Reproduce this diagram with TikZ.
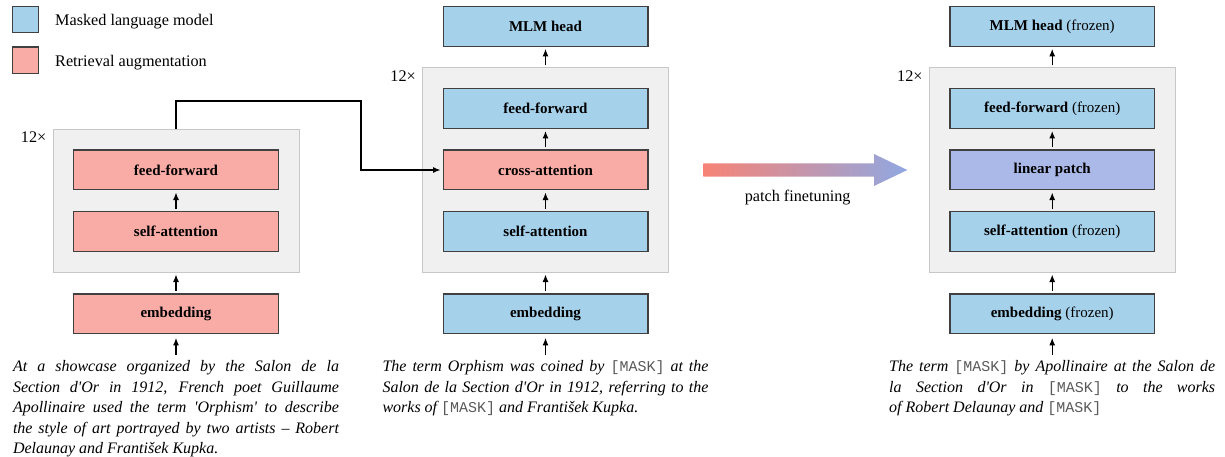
\documentclass[tikz,border=0pt]{standalone}
\usepackage{fontspec}
\setmainfont{Liberation Serif}
\setmonofont{Liberation Mono}
\usepackage{tikz}
\usetikzlibrary{arrows.meta,fit,positioning}

\definecolor{mlmblue}{RGB}{166,209,235}
\definecolor{rapink}{RGB}{248,172,165}
\definecolor{patchblue}{RGB}{171,185,232}
\definecolor{arrowred}{RGB}{247,131,118}
\definecolor{arrowblue}{RGB}{144,168,226}

\newcommand{\mask}{{\upshape\ttfamily\fontsize{15}{20.5}\selectfont\color{black!65}[MASK]}}
\newcommand{\frz}{ (frozen)}
\hbadness=10000

\begin{document}
\begin{tikzpicture}[x=1pt,y=-1pt]

        % Слои:
        \pgfdeclarelayer{background}
        \pgfsetlayers{background,main}

        % Стили:
        \tikzstyle{modulebox}=[draw=black!75, line width=1.3pt, minimum width=204.7pt,
        minimum height=39.7pt, inner sep=0pt, font=\fontsize{15}{18}\selectfont]
        \tikzstyle{stack}=[draw=black!22, fill=black!6, line width=1pt, inner sep=20pt]
        \tikzstyle{legendkey}=[draw=black!75, line width=1.3pt, minimum size=26.3pt, inner sep=0pt]
        \tikzstyle{plain}=[inner sep=0pt, font=\fontsize{16.2}{19}\selectfont]
        \tikzstyle{caption}=[anchor=north, text width=326pt, align=justify, inner sep=0pt,
        font=\fontsize{16}{20.5}\selectfont\itshape]
        \tikzstyle{line}=[draw, line width=1.2pt, color=black, -{Latex[length=7.5pt,width=6pt]}]
        \tikzstyle{uparrow}=[line, shorten <=2pt, shorten >=2pt]
        \tikzstyle{inarrow}=[line, shorten <=5pt, shorten >=3.7pt]

        \newcommand{\modulebox}[3]{node (#1) [modulebox,#3] {#2}}

        % Серый фон блока:
        \newcommand{\stackbg}[3]{%
        \begin{pgfonlayer}{background}
            \node (#1) [stack, fit=(#2)(#3)] {};
        \end{pgfonlayer}
        \path (#1.north west)+(-6,8.5) node (#1x) [plain, anchor=east] {12×};}

        \useasboundingbox (0,0) rectangle (1225,457);

        % Легенда:
        \path (25.5,19.5) node (kmlm) [legendkey, fill=mlmblue] {};
        \path (kmlm.east)+(15.7,6.5) node (tmlm) [plain, anchor=base west] {Masked language model};
        \path (25.5,60.3) node (kra) [legendkey, fill=rapink] {};
        \path (kra.east)+(15.7,6.4) node (tra) [plain, anchor=base west] {Retrieval augmentation};

        % Левая колонка:
        \path (176,313.7) \modulebox{lemb}{\textbf{embedding}}{fill=rapink};
        \path (lemb.center)+(0,-82.2) \modulebox{lsa}{\textbf{self-attention}}{fill=rapink};
        \path (lsa.center)+(0,-61.5) \modulebox{lff}{\textbf{feed-forward}}{fill=rapink};

        % Средняя колонка:
        \path (lemb.center)+(369.5,0) \modulebox{memb}{\textbf{embedding}}{fill=mlmblue};
        \path (memb.center)+(0,-82.2) \modulebox{msa}{\textbf{self-attention}}{fill=mlmblue};
        \path (msa.center)+(0,-61.5) \modulebox{mca}{\textbf{cross-attention}}{fill=rapink};
        \path (mca.center)+(0,-61.5) \modulebox{mff}{\textbf{feed-forward}}{fill=mlmblue};
        \path (mff.center)+(0,-82.1) \modulebox{mhead}{\textbf{MLM head}}{fill=mlmblue};

        % Правая колонка:
        \path (memb.center)+(506.7,0) \modulebox{remb}{\textbf{embedding}\frz}{fill=mlmblue};
        \path (remb.center)+(0,-82.2) \modulebox{rsa}{\textbf{self-attention}\frz}{fill=mlmblue};
        \path (rsa.center)+(0,-61.5) \modulebox{rpatch}{\textbf{linear patch}}{fill=patchblue};
        \path (rpatch.center)+(0,-61.5) \modulebox{rff}{\textbf{feed-forward}\frz}{fill=mlmblue};
        \path (rff.center)+(0,-82.1) \modulebox{rhead}{\textbf{MLM head}\frz}{fill=mlmblue};

        \stackbg{s1}{lff}{lsa}
        \stackbg{s2}{mff}{msa}
        \stackbg{s3}{rff}{rsa}

        % Подписи:
        \path (lemb.south)+(0,26) node (cap1) [caption] {At a showcase organized by the Salon de la\linebreak
        Section d\textquotesingle Or in 1912, French poet Guillaume\linebreak
        Apollinaire used the term \textquotesingle Orphism\textquotesingle{} to describe\linebreak
        the style of art portrayed by two artists -- Robert\linebreak
        Delaunay and František Kupka.};
        \path (memb.south)+(0,26) node (cap2) [caption] {The term Orphism was coined by \mask{} at the\linebreak
        Salon de la Section d\textquotesingle Or in 1912, referring to the\linebreak
        works of \mask{} and František Kupka.};
        \path (remb.south)+(0,26) node (cap3) [caption] {The term \mask{} by Apollinaire at the Salon de\linebreak
        la Section d\textquotesingle Or in \mask{} to the works\linebreak
        of Robert Delaunay and \mask};

        % Стрелки:
        \path [inarrow] (cap1.north) -- (lemb.south);
        \path [uparrow] (lemb.north) -- (s1.south);
        \path [uparrow] (lsa.north) -- (lff.south);

        \path [inarrow] (cap2.north) -- (memb.south);
        \path [uparrow] (memb.north) -- (s2.south);
        \path [uparrow] (msa.north) -- (mca.south);
        \path [uparrow] (mca.north) -- (mff.south);
        \path [uparrow] (s2.north) -- (mhead.south);

        \path [inarrow] (cap3.north) -- (remb.south);
        \path [uparrow] (remb.north) -- (s3.south);
        \path [uparrow] (rsa.north) -- (rpatch.south);
        \path [uparrow] (rpatch.north) -- (rff.south);
        \path [uparrow] (s3.north) -- (rhead.south);

        \coordinate (bend) at (361,101);
        \path [line, shorten >=2pt] (s1.north) |- (bend) |- (mca.west);

        % Переход:
        \shade [left color=arrowred, right color=arrowblue]
            (703.3,163.3) -- ++(170.7,0) -- ++(0,-9.3) -- (907.3,170)
            -- (874,186) -- ++(0,-9.3) -- (703.3,176.7) -- cycle;
        \path (797.7,197.3) node (ftlabel) [plain] {patch finetuning};
\end{tikzpicture}
\end{document}
